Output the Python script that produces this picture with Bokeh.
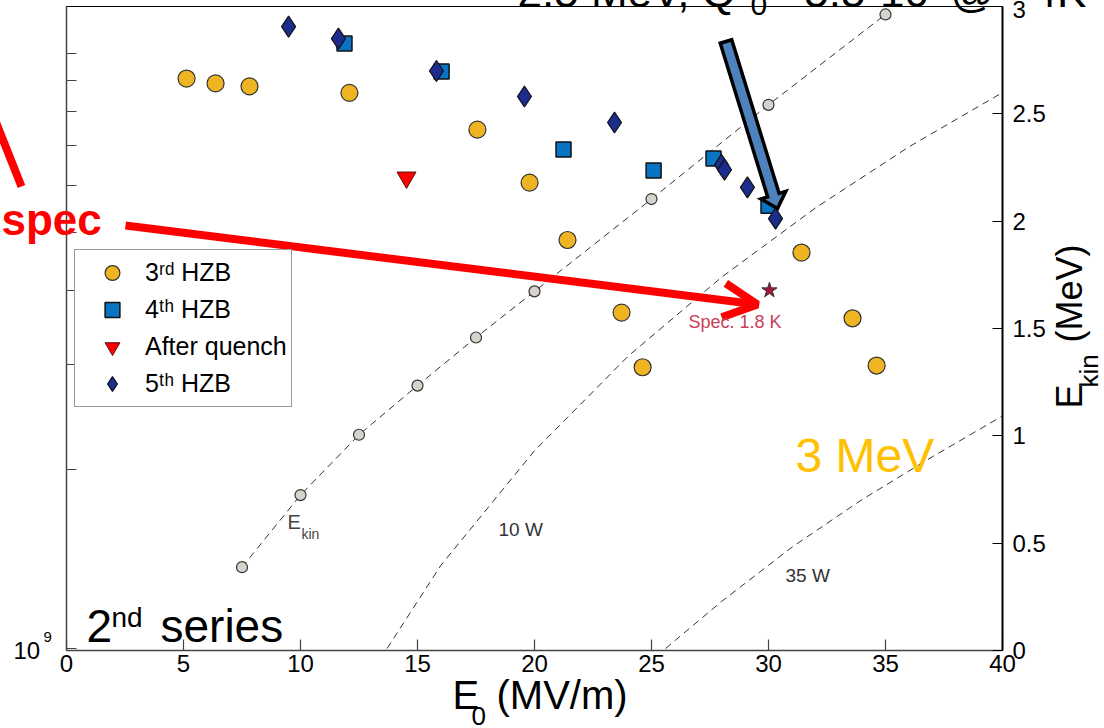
import numpy as np
from bokeh.plotting import figure
from bokeh.core.properties import value
from bokeh.models import (Range1d, LinearAxis, LinearScale, FixedTicker, Label, Arrow, OpenHead,
                          Legend, LegendItem, CustomJSTickFormatter)
from bokeh.embed import file_html
from bokeh.resources import INLINE

# ---------------- data ----------------
E0_3rd = [5.13, 6.37, 7.82, 12.09, 17.56, 19.79, 21.41, 23.72, 24.62, 31.41, 33.59, 34.62]
Q0_3rd = [9.08e9, 8.91e9, 8.81e9, 8.59e9, 7.45e9, 6.07e9, 4.86e9, 3.67e9, 2.97e9, 4.63e9, 3.59e9, 2.99e9]

E0_4th = [11.88, 16.03, 21.24, 25.09, 27.65, 30.0]
Q0_4th = [1.04e10, 9.33e9, 6.90e9, 6.36e9, 6.66e9, 5.55e9]

E0_quench = [14.53]
Q0_quench = [6.19e9]

E0_5th = [9.49, 11.62, 15.81, 19.57, 23.42, 27.99, 28.12, 29.10, 30.30]
Q0_5th = [1.11e10, 1.06e10, 9.35e9, 8.47e9, 7.66e9, 6.50e9, 6.38e9, 5.96e9, 5.28e9]

E0_spec = [30.04]
Q0_spec = [4.0e9]

E0_kin = [7.5, 10, 12.5, 15, 17.5, 20, 25, 30, 35]
Ekin = [0.388, 0.724, 1.005, 1.234, 1.458, 1.673, 2.103, 2.542, 2.963]

E0_10W = [13.7, 16, 20, 24, 28, 32, 36, 40]
Q0_10W = [1.0e9, 1.38e9, 2.15e9, 3.10e9, 4.21e9, 5.50e9, 6.97e9, 8.60e9]
E0_35W = [25.6, 28, 31, 34, 37, 40]
Q0_35W = [1.0e9, 1.20e9, 1.48e9, 1.78e9, 2.10e9, 2.46e9]

x_ticks = [0, 5, 10, 15, 20, 25, 30, 35, 40]
q_ticks = [1e9, 2e9, 3e9, 4e9, 5e9, 6e9, 7e9, 8e9, 9e9, 1e10]
ekin_ticks = [0, 0.5, 1, 1.5, 2, 2.5, 3]
ekin_tick_labels = ["0", "0.5", "1", "1.5", "2", "2.5", "3"]
legend_labels = ["3\u02b3\u1d48 HZB", "4\u1d57\u02b0 HZB", "After quench", "5\u1d57\u02b0 HZB"]

FONT = "Liberation Sans"
Q_LO, Q_HI = 9.923e8, 1.20e10

p = figure(width=1104, height=728, output_backend="svg", toolbar_location=None, title=None,
           x_range=Range1d(0, 40), y_range=Range1d(Q_LO, Q_HI), y_axis_type="log",
           min_border_left=66, min_border_right=102, min_border_top=6, min_border_bottom=78,
           background_fill_color="white", border_fill_color="white",
           outline_line_color="black", outline_line_width=1)
p.extra_y_ranges = {"ekin": Range1d(0, 3)}
p.extra_y_scales = {"ekin": LinearScale()}
p.xgrid.visible = False
p.ygrid.visible = False

# bottom axis
xa = p.xaxis[0]
xa.ticker = FixedTicker(ticks=x_ticks)
xa.major_tick_in = 11
xa.major_tick_out = 0
xa.minor_tick_line_color = None
xa.axis_line_color = "#444"
xa.axis_line_width = 1.5
xa.major_tick_line_color = "#444"
xa.major_tick_line_width = 1.2
xa.major_label_text_font = FONT
xa.major_label_text_font_size = "24px"
xa.major_label_text_color = "black"
xa.major_label_standoff = 4

# left (log) axis, labels drawn separately
ya = p.yaxis[0]
ya.ticker = FixedTicker(ticks=q_ticks, minor_ticks=[])
ya.formatter = CustomJSTickFormatter(code="return ''")
ya.major_tick_in = 10
ya.major_tick_out = 0
ya.minor_tick_line_color = None
ya.axis_line_color = "#444"
ya.axis_line_width = 1.5
ya.major_tick_line_color = "#444"
ya.major_tick_line_width = 1.2

# right axis (E_kin)
ra = LinearAxis(y_range_name="ekin", ticker=FixedTicker(ticks=ekin_ticks),
                major_label_overrides=dict(zip(ekin_ticks, ekin_tick_labels)))
ra.major_tick_in = 10
ra.major_tick_out = 0
ra.minor_tick_line_color = None
ra.axis_line_color = "black"
ra.axis_line_width = 2
ra.major_tick_line_color = "black"
ra.major_tick_line_width = 1.2
ra.major_label_text_font = FONT
ra.major_label_text_font_size = "24px"
ra.major_label_text_color = "black"
ra.major_label_standoff = 10
p.add_layout(ra, "right")

# dashed curves
DASH = "7 5"
p.line(E0_10W, Q0_10W, line_color="#333", line_width=1, line_dash=DASH)
p.line(E0_35W, Q0_35W, line_color="#333", line_width=1, line_dash=DASH)
p.line(E0_kin, Ekin, y_range_name="ekin", line_color="#333", line_width=1, line_dash=DASH)
p.scatter(E0_kin, Ekin, y_range_name="ekin", marker="circle", size=11,
          fill_color="#D6D3CC", line_color="#333", line_width=1.2)

# measurement series
r3 = p.scatter(E0_3rd, Q0_3rd, marker="circle", size=17, fill_color="#EEB422",
               line_color="#333", line_width=1.2)
r4 = p.scatter(E0_4th, Q0_4th, marker="square", size=15, fill_color="#0A74C4",
               line_color="#111", line_width=1.5)
rq = p.scatter(E0_quench, Q0_quench, marker="inverted_triangle", size=19, fill_color="#FF0000",
               line_color="#551111", line_width=1)
r5 = p.scatter(E0_5th, Q0_5th, marker="diamond", size=21, fill_color="#1C2C8C",
               line_color="#111", line_width=1.2)
p.scatter(E0_spec, Q0_spec, marker="star", size=16, fill_color="#A0183A",
          line_color="#333", line_width=1)

legend = Legend(items=[LegendItem(label=legend_labels[0], renderers=[r3]),
                       LegendItem(label=legend_labels[1], renderers=[r4]),
                       LegendItem(label=legend_labels[2], renderers=[rq]),
                       LegendItem(label=legend_labels[3], renderers=[r5])],
                location=(8, 243), margin=0, padding=4, spacing=0,
                glyph_width=66, glyph_height=37, label_height=37, label_standoff=0,
                label_text_font=FONT, label_text_font_size="25px", label_text_color="black",
                border_line_color="#333", border_line_width=1.5,
                background_fill_color="white", background_fill_alpha=1)
p.add_layout(legend)

# ---------------- annotations (positions in reference pixels) ----------------
PXX = 936 / 40.0
PXY = 644 / 3.0
K = 0.37  # baseline correction (fraction of font size)


def dx(ix):
    return (ix - 66) / PXX


def dy(iy):
    return (650 - iy) / PXY


def lab(text, ix, iy, size, color="black", style="normal"):
    # text inside the frame; (ix, iy) = left end of the baseline
    p.add_layout(Label(x=dx(ix), y=dy(iy - K * size), y_range_name="ekin", text=text,
                       text_font=FONT, text_font_size=f"{size}px", text_color=color,
                       text_font_style=style, text_align="left", text_baseline="alphabetic"))


def gtext(text, ix, iy, size, color="black", style="normal", rot=False):
    # text that reaches outside the frame, drawn as an overlay-level glyph
    if rot:
        x, y, ang = dx(ix - K * size), dy(iy), np.pi / 2
    else:
        x, y, ang = dx(ix), dy(iy - K * size), 0.0
    p.text(x=[x], y=[y], text=[text], y_range_name="ekin", text_font=value(FONT),
           text_font_size=value(f"{size}px"), text_color=color, text_font_style=style,
           text_align="left", text_baseline="alphabetic", angle=ang, level="overlay")


# blue block arrow
s = np.array([725.5, 41.0])
t = np.array([777.0, 208.0])
u = (t - s) / np.linalg.norm(t - s)
n = np.array([u[1], -u[0]])
w, hw, hl = 6.0, 13.0, 14.0
b = t - u * hl
pts = [s + n * w, b + n * w, b + n * hw, t, b - n * hw, b - n * w, s - n * w]
p.patch([dx(q[0]) for q in pts], [dy(q[1]) for q in pts], y_range_name="ekin",
        fill_color="#4F81BD", line_color="black", line_width=3.5, line_join="miter")

# red arrows
p.add_layout(Arrow(x_start=dx(125), y_start=dy(225), x_end=dx(757), y_end=dy(304),
                   y_range_name="ekin", line_color="red", line_width=8,
                   end=OpenHead(size=34, line_color="red", line_width=8)))
p.segment(x0=[dx(-14)], y0=[dy(98)], x1=[dx(21)], y1=[dy(186)], y_range_name="ekin",
          line_color="red", line_width=8, level="overlay")

# cropped slide title along the top edge (cut off in the reference as well)
gtext("2.5 MeV, Q", 517, 7, 44)
gtext("0", 750, 16, 30)
gtext("=5.5\u00b710", 778, 7, 44)
gtext("@", 950, 7, 44)
gtext("4K", 1032, 7, 44)

# texts outside the frame
gtext("spec", 1, 235, 44, color="red", style="bold")
gtext("10", 13, 659, 24)
gtext("9", 43, 642, 15)
gtext("E", 452, 709, 40)
gtext("0", 471, 725, 26)
gtext("(MV/m)", 496, 709, 40)
gtext("E", 1082, 408, 36, rot=True)
gtext("kin", 1098, 387, 26, rot=True)
gtext("(MeV)", 1082, 342, 36, rot=True)

# texts inside the frame
lab("2", 86, 643, 46)
lab("nd", 111, 627, 28)
lab("series", 160, 643, 46)
lab("E", 287, 529, 20, color="#444")
lab("kin", 301, 539, 14, color="#444")
lab("10 W", 498, 536, 19, color="#333")
lab("35 W", 785, 582, 19, color="#333")
lab("Spec. 1.8 K", 688, 328, 18, color="#C8405A")
lab("3 MeV", 795, 473, 48, color="#FFC000")

with open("out.html", "w") as f:
    f.write(file_html(p, INLINE))
